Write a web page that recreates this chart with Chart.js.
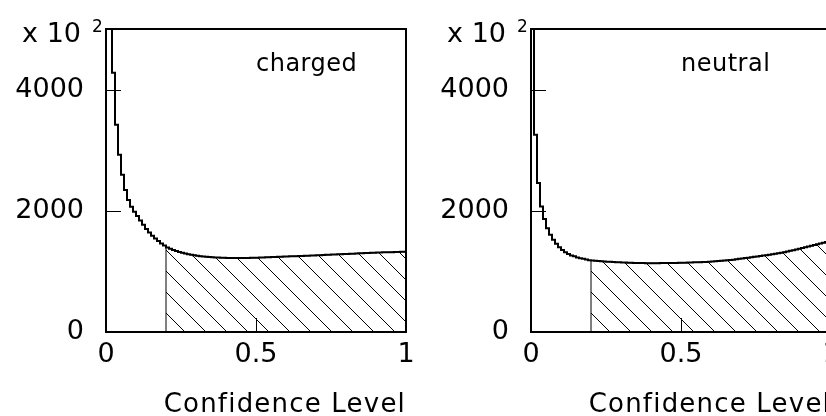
<!DOCTYPE html>
<html><head><meta charset="utf-8">
<script src="https://cdn.jsdelivr.net/npm/chart.js@4/dist/chart.umd.min.js"></script>
<style>
html,body{margin:0;padding:0;background:#fff;width:826px;height:416px;overflow:hidden;position:relative}
canvas{position:absolute;top:0}
#c1{left:0}
#c2{left:425px}
</style></head><body>
<canvas id="c1" width="425" height="416"></canvas>
<canvas id="c2" width="425" height="416"></canvas>
<script>
// ---- data ----
const binWidth = 0.01;
const cutValue = 0.2;
const chargedCounts = [
  9000, 6500, 4280, 3420, 2925, 2595, 2345, 2180, 2065, 1985,
  1915, 1840, 1770, 1700, 1640, 1587, 1542, 1500, 1460, 1427,
  1395, 1375, 1355, 1338, 1322, 1308, 1295, 1284, 1274, 1265,
  1258, 1251, 1246, 1241, 1237, 1233, 1230, 1228, 1226, 1224,
  1223, 1222, 1221, 1221, 1221, 1222, 1222, 1223, 1224, 1225,
  1227, 1228, 1230, 1232, 1234, 1236, 1238, 1240, 1242, 1244,
  1246, 1248, 1250, 1252, 1254, 1256, 1258, 1260, 1262, 1264,
  1266, 1268, 1271, 1273, 1275, 1278, 1280, 1282, 1285, 1287,
  1289, 1291, 1293, 1296, 1298, 1300, 1302, 1304, 1306, 1308,
  1310, 1312, 1314, 1315, 1317, 1318, 1320, 1322, 1324, 1326
];
const neutralCounts = [
  8000, 3255, 2460, 2071, 1863, 1714, 1603, 1521, 1455, 1400,
  1355, 1317, 1289, 1264, 1248, 1231, 1218, 1207, 1195, 1185,
  1180, 1176, 1172, 1168, 1164, 1161, 1158, 1155, 1152, 1149,
  1147, 1145, 1143, 1141, 1140, 1139, 1138, 1137, 1136, 1136,
  1136, 1136, 1136, 1137, 1137, 1138, 1138, 1139, 1140, 1141,
  1142, 1144, 1145, 1147, 1149, 1151, 1153, 1155, 1157, 1160,
  1163, 1166, 1170, 1174, 1178, 1183, 1188, 1194, 1200, 1207,
  1214, 1220, 1226, 1233, 1240, 1247, 1254, 1261, 1268, 1275,
  1282, 1290, 1299, 1308, 1318, 1328, 1339, 1350, 1362, 1374,
  1386, 1398, 1410, 1422, 1434, 1446, 1459, 1472, 1486, 1500
];
const xTickValues = [0, 0.5, 1];
const xTickLabels = ['0', '0.5', '1'];
const yTickValues = [0, 2000, 4000];
const yTickLabels = ['0', '2000', '4000'];
const panelLabels = ['charged', 'neutral'];
const xTitle = 'Confidence Level';
const yMultiplier = ['x 10', '2'];

// ---- helpers ----
const FONT = 'DejaVu Sans';

function histPoints(counts, from) {
  const pts = [];
  for (let i = from; i < counts.length; i++) pts.push({x: i * binWidth, y: counts[i]});
  pts.push({x: counts.length * binWidth, y: counts[counts.length - 1]});
  return pts;
}

function makeHatch(ctx) {
  const s = 21;
  const c = document.createElement('canvas');
  c.width = s; c.height = s;
  const g = c.getContext('2d');
  g.strokeStyle = '#000';
  g.lineWidth = 1;
  g.beginPath();
  for (const off of [-s, 0, s]) { g.moveTo(off - 2, -2); g.lineTo(off + s + 2, s + 2); }
  g.stroke();
  return ctx.createPattern(c, 'repeat');
}

const decor = {
  id: 'decor',
  beforeDraw(chart) { chart.ctx.letterSpacing = '0px'; },
  afterDraw(chart, args, opts) {
    const {ctx, chartArea: a, scales: {x, y}} = chart;
    ctx.save();
    ctx.strokeStyle = '#000';
    ctx.lineWidth = 1;
    ctx.beginPath();
    yTickValues.forEach(v => {
      if (v > y.min && v < y.max) {
        const p = Math.round(y.getPixelForValue(v)) + 0.5;
        ctx.moveTo(a.left, p); ctx.lineTo(a.left + 15, p);
      }
    });
    xTickValues.forEach(v => {
      if (v > x.min && v < x.max) {
        const p = Math.round(x.getPixelForValue(v)) + 0.5;
        ctx.moveTo(p, a.bottom); ctx.lineTo(p, a.bottom - 14);
      }
    });
    ctx.stroke();
    ctx.lineWidth = 2;
    ctx.strokeRect(a.left, a.top, a.right - a.left, a.bottom - a.top);

    ctx.fillStyle = '#000';
    ctx.textBaseline = 'alphabetic';
    ctx.letterSpacing = '0px';
    ctx.font = '27px "' + FONT + '"';
    ctx.textAlign = 'right';
    ctx.fillText(yMultiplier[0], a.left - 25, a.top + 13);
    ctx.font = '17px "' + FONT + '"';
    ctx.textAlign = 'left';
    ctx.fillText(yMultiplier[1], a.left - 14, a.top + 3);
    ctx.font = '24px "' + FONT + '"';
    ctx.letterSpacing = '0.5px';
    ctx.fillText(opts.label, x.getPixelForValue(opts.labelX), y.getPixelForValue(opts.labelY));
    ctx.restore();
  }
};

function spacedTitle(s) {
  if (s._spacedTitle) return;
  s._spacedTitle = true;
  const orig = s.drawTitle;
  s.drawTitle = function () {
    const c = this.ctx;
    c.letterSpacing = '1.2px';
    orig.apply(this, arguments);
    c.letterSpacing = '0px';
  };
}

function makeChart(id, counts, label) {
  const ctx = document.getElementById(id).getContext('2d');
  const hatch = makeHatch(ctx);
  const start = Math.round(cutValue / binWidth);
  return new Chart(ctx, {
    type: 'line',
    data: {
      datasets: [
        { data: histPoints(counts, 0), borderColor: '#000', borderWidth: 2, stepped: 'before',
          pointRadius: 0, fill: false, order: 0 },
        { data: [{x: cutValue, y: 0}].concat(histPoints(counts, start)), borderColor: '#000', borderWidth: 1,
          stepped: 'before', pointRadius: 0, fill: 'origin', backgroundColor: hatch, order: 1 }
      ]
    },
    options: {
      responsive: false, animation: false, devicePixelRatio: 1,
      layout: {padding: {left: 0, top: 29, right: 19, bottom: 0}},
      plugins: {
        legend: {display: false}, tooltip: {enabled: false},
        decor: {label: label, labelX: 0.5, labelY: 4300}
      },
      scales: {
        x: {
          type: 'linear', min: 0, max: 1,
          afterBuildTicks(s) { s.ticks = xTickValues.map(v => ({value: v})); },
          ticks: { callback: (v, i) => xTickLabels[i], font: {family: FONT, size: 27}, color: '#000',
                   padding: 7, maxRotation: 0, autoSkip: false },
          grid: {display: false, drawTicks: false},
          border: {display: false},
          title: {display: true, text: xTitle, align: 'end', color: '#000', padding: 0,
                  font: {family: FONT, size: 26, lineHeight: 0.85}},
          afterFit(s) { s.height = 84; s.paddingLeft = 0; s.paddingRight = 0; spacedTitle(s); }
        },
        y: {
          type: 'linear', min: 0, max: 5000,
          afterBuildTicks(s) { s.ticks = yTickValues.map(v => ({value: v})); },
          ticks: { callback: (v, i) => yTickLabels[i], font: {family: FONT, size: 27}, color: '#000',
                   padding: 22, autoSkip: false },
          grid: {display: false, drawTicks: false},
          border: {display: false},
          afterFit(s) { s.width = 106; s.paddingTop = 0; s.paddingBottom = 0; }
        }
      }
    },
    plugins: [decor]
  });
}

makeChart('c1', chargedCounts, panelLabels[0]);
makeChart('c2', neutralCounts, panelLabels[1]);
</script>
</body></html>
